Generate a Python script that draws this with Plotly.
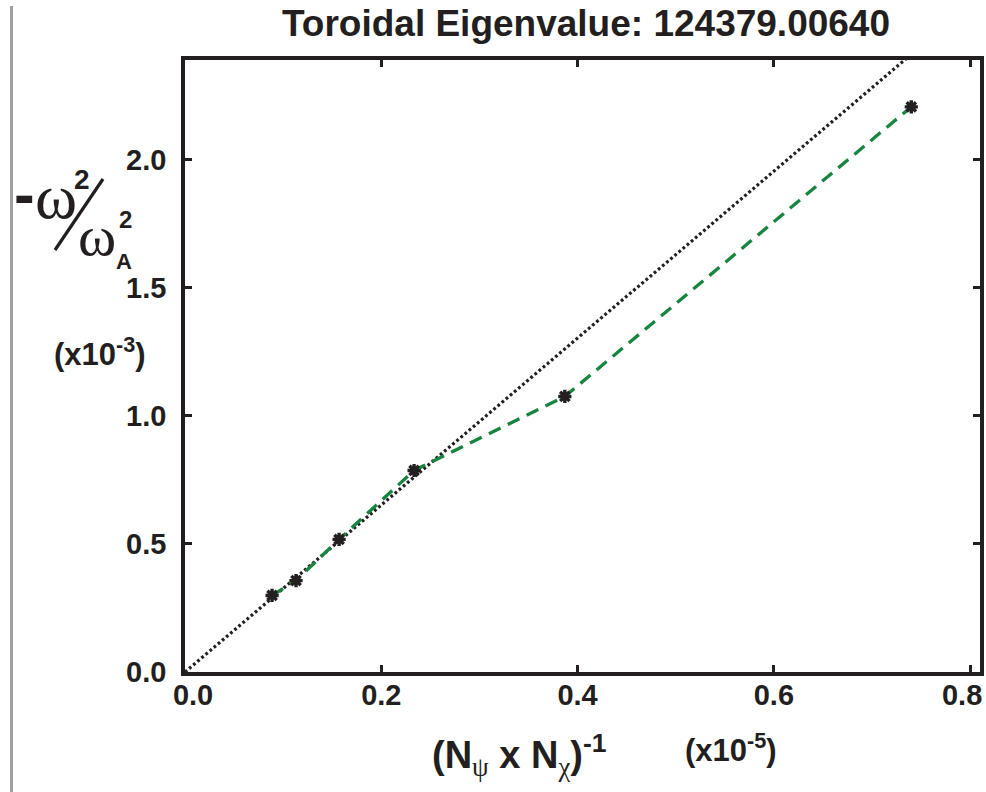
import plotly.graph_objects as go

# Convergence data: inverse grid size (x1e-5) vs growth rate -w^2/wA^2 (x1e-3)
inv_grid = [0.0887, 0.1131, 0.157, 0.2334, 0.387, 0.740]
growth = [0.299, 0.357, 0.518, 0.787, 1.076, 2.207]

# Linear extrapolation through the fine-grid points
fit_x = [0.0, 0.75]
fit_y = [0.0, 2.445]

x_ticks = [0.0, 0.2, 0.4, 0.6, 0.8]
y_ticks = [0.0, 0.5, 1.0, 1.5, 2.0]

INK = "#231f20"
GREEN = "#17853f"
SANS = "Liberation Sans, Arial, sans-serif"
SERIF = "Liberation Serif, Times New Roman, serif"
NB = "\u00a0"

W, H = 986, 792
ML, MR, MT, MB = 185, 6, 60, 120
PW, PH = W - ML - MR, H - MT - MB


def px(x):
    return (x - ML) / PW


def py(y):
    return (H - MB - y) / PH


fig = go.Figure()

fig.add_trace(go.Scatter(
    x=fit_x, y=fit_y, mode="lines",
    line=dict(color=INK, width=3.2, dash="2.8px,2.6px"),
    hoverinfo="skip", showlegend=False,
))
fig.add_trace(go.Scatter(
    x=inv_grid, y=growth, mode="lines",
    line=dict(color=GREEN, width=3.3, dash="13px,8px"),
    showlegend=False,
))
fig.add_trace(go.Scatter(
    x=inv_grid, y=growth, mode="markers",
    marker=dict(symbol="asterisk-open", size=11, color=INK,
                line=dict(color=INK, width=3.4)),
    showlegend=False,
))

axis_common = dict(
    showline=True, linewidth=3.6, linecolor=INK, mirror="ticks",
    ticks="inside", ticklen=7, tickwidth=3, tickcolor=INK,
    showgrid=False, zeroline=False, automargin=False,
    ticklabeloverflow="allow",
    tickfont=dict(family=SANS, size=29, color=INK, weight="bold"),
)

# end labels sit slightly inward from their ticks
x_text = [f"{v:.1f}" for v in x_ticks]
x_text[0] = NB * 2 + x_text[0]
x_text[-1] = x_text[-1] + NB * 2

fig.update_xaxes(range=[0, 0.81], tickvals=x_ticks, ticktext=x_text,
                 ticklabelstandoff=-6, **axis_common)
fig.update_yaxes(range=[0, 2.39], tickvals=y_ticks,
                 ticktext=[f"{v:.1f}" for v in y_ticks],
                 ticklabelstandoff=9, **axis_common)

ann = []


def label(text, x, y, size, family=SANS, bold=True, xanchor="center", yanchor="middle"):
    ann.append(dict(
        text=text, x=px(x), y=py(y), xref="paper", yref="paper",
        showarrow=False, xanchor=xanchor, yanchor=yanchor,
        font=dict(family=family, size=size, color=INK,
                  weight="bold" if bold else "normal"),
    ))


# y-axis label: -w^2 / wA^2
label("-", 24, 193, 62)
label("\u03c9", 56, 196, 64, family=SERIF, bold=False)
label("2", 82, 179, 28)
label("\u03c9", 97, 235, 58, family=SERIF, bold=False)
label("2", 125, 220, 24)
label("A", 124, 261, 22)
label("(x10<sup>-3</sup>)", 100, 352, 31)

# x-axis label
psi = '<span style="font-family:Liberation Serif;font-weight:normal">\u03c8</span>'
chi = '<span style="font-family:Liberation Serif;font-weight:normal">\u03c7</span>'
label(f"(N<sub>{psi}</sub> x N<sub>{chi}</sub>)<sup>-1</sup>", 519, 755, 38)
label("(x10<sup>-5</sup>)", 731, 748, 31)

fig.update_layout(
    width=W, height=H, autosize=False,
    margin=dict(l=ML, r=MR, t=MT, b=MB, autoexpand=False),
    paper_bgcolor="white", plot_bgcolor="white",
    title=dict(text="Toroidal Eigenvalue: 124379.00640",
               xref="container", x=586 / W, xanchor="center",
               yref="container", y=1 - 23 / H, yanchor="middle",
               font=dict(family=SANS, size=37, color=INK, weight="bold")),
    annotations=ann,
    shapes=[
        dict(type="line", xref="paper", yref="paper",
             x0=px(55), y0=py(250), x1=px(103), y1=py(179),
             line=dict(color=INK, width=3.2)),
        dict(type="line", xref="paper", yref="paper",
             x0=px(11.5), y0=py(6), x1=px(11.5), y1=py(H),
             line=dict(color="#a0a0a0", width=3)),
    ],
)

fig.write_html("out.html")
